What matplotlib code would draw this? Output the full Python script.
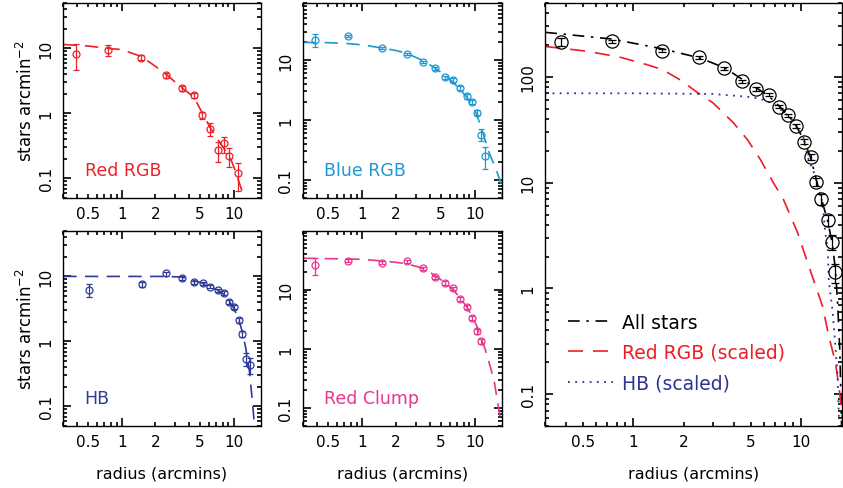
import numpy as np
import matplotlib.pyplot as plt
from matplotlib.ticker import FixedLocator, FuncFormatter, NullFormatter

plt.rcParams['font.family'] = 'DejaVu Sans'

## values

# Red RGB
rrgb_r = [0.39, 0.76, 1.5, 2.48, 3.43, 4.4, 5.25, 6.2, 7.2, 8.3, 9.2, 11.0]
rrgb_d = [8.3, 9.4, 7.2, 3.85, 2.42, 1.89, 0.93, 0.58, 0.27, 0.345, 0.22, 0.12]
rrgb_e = [3.6, 1.7, 0.6, 0.35, 0.22, 0.18, 0.12, 0.13, 0.09, 0.095, 0.07, 0.055]
rrgb_fit_r = [0.3, 0.5, 0.76, 1.0, 1.5, 2.0, 2.5, 3.43, 4.4, 5.25, 6.2, 7.2, 8.3, 9.2, 10, 11, 12, 12.4]
rrgb_fit_d = [11.5, 10.9, 10.0, 9.6, 7.5, 5.3, 4.0, 2.5, 1.8, 1.02, 0.6, 0.4, 0.28, 0.22, 0.155, 0.097, 0.061, 0.045]

# Blue RGB
brgb_r = [0.385, 0.76, 1.51, 2.49, 3.47, 4.41, 5.42, 6.4, 7.39, 8.48, 9.4, 10.4, 11.3, 12.4]
brgb_d = [21.9, 25.4, 16.0, 12.8, 9.4, 7.3, 5.2, 4.68, 3.47, 2.48, 2.0, 1.33, 0.57, 0.254]
brgb_e = [5.5, 1.0, 0.8, 0.6, 0.45, 0.35, 0.3, 0.3, 0.25, 0.2, 0.18, 0.12, 0.13, 0.1]
brgb_fit_r = [0.3, 0.5, 0.76, 1.0, 1.5, 2.0, 2.5, 3.5, 4.4, 5.4, 6.4, 7.4, 8.5, 9.4, 10.4, 11.3, 12.4, 13.5, 15.5, 17.1, 17.6]
brgb_fit_d = [19.8, 19.6, 18.9, 18.0, 16.0, 14.5, 13.0, 9.8, 7.5, 5.7, 4.3, 3.3, 2.4, 1.8, 1.25, 0.81, 0.46, 0.28, 0.15, 0.09, 0.05]

# HB
hb_r = [0.51, 1.51, 2.48, 3.43, 4.43, 5.3, 6.18, 7.27, 8.16, 9.1, 10.1, 11.1, 12.0, 12.9, 13.9]
hb_d = [6.25, 7.55, 11.1, 9.55, 8.1, 7.8, 6.95, 6.1, 5.6, 4.0, 3.4, 2.1, 1.3, 0.54, 0.44]
hb_e = [1.5, 0.6, 0.8, 0.6, 0.5, 0.4, 0.4, 0.35, 0.35, 0.3, 0.25, 0.2, 0.15, 0.12, 0.12]
hb_fit_r = [0.3, 1.0, 2.36, 3.43, 4.43, 5.3, 6.2, 7.3, 8.2, 9.1, 10.1, 11.1, 12.0, 12.9, 13.9, 14.5, 15.2, 15.4]
hb_fit_d = [10, 10, 10, 9.8, 8.6, 7.9, 7.0, 6.1, 5.3, 4.2, 3.2, 2.2, 1.4, 0.77, 0.34, 0.16, 0.066, 0.05]

# Red Clump
rc_r = [0.382, 0.755, 1.51, 2.49, 3.47, 4.41, 5.42, 6.4, 7.39, 8.48, 9.4, 10.4, 11.3]
rc_d = [25.8, 31.0, 28.6, 30.2, 22.9, 16.1, 13.0, 10.5, 7.0, 5.2, 3.36, 2.0, 1.34]
rc_e = [8.0, 1.8, 1.5, 1.5, 1.2, 0.9, 0.8, 0.7, 0.5, 0.4, 0.3, 0.2, 0.15]
rc_fit_r = [0.3, 0.76, 1.0, 1.5, 2.0, 2.5, 3.47, 4.41, 5.42, 6.4, 7.39, 8.48, 9.4, 10.4, 11.3, 12.4, 14, 15, 16.3, 17.5]
rc_fit_d = [34, 33, 32.6, 30.6, 29, 27.5, 23, 17.6, 13.3, 10.1, 7.4, 5.2, 3.7, 2.5, 1.58, 1.0, 0.45, 0.27, 0.1, 0.048]

# All stars + scaled fits
all_r = [0.373, 0.75, 1.49, 2.48, 3.47, 4.46, 5.41, 6.41, 7.36, 8.36, 9.33, 10.4, 11.4, 12.3, 13.2, 14.5, 15.3, 16.0]
all_d = [214, 217, 177, 154, 121, 91, 77, 68, 52.5, 43.2, 34.7, 24.4, 17.5, 10.2, 7.0, 4.4, 2.74, 1.42]
all_e = [20, 8, 6, 5, 4, 3, 3, 2.5, 2, 1.8, 1.5, 1.2, 1.0, 0.8, 0.8, 0.5, 0.45, 0.3]
all_fit_r = [0.3, 0.75, 1.5, 2.5, 3.5, 4.5, 5.4, 6.4, 7.4, 8.4, 9.3, 10.4, 11.4, 12.3, 13.2, 14.3, 15.3, 16.0, 16.5, 17.0, 17.4]
all_fit_d = [264, 228, 184, 151, 122, 94, 79, 66, 53, 43, 35, 25, 17.2, 10.7, 7.0, 4.5, 2.7, 1.5, 0.7, 0.25, 0.05]
rs_fit_r = [0.3, 0.53, 0.83, 1.2, 1.5, 1.9, 2.39, 2.98, 3.94, 4.78, 5.71, 6.83, 7.84, 9.5, 10.9, 12.2, 13.4, 14.6, 16.0, 17.0, 17.5]
rs_fit_d = [194, 175, 154, 131, 117, 94, 72, 57, 37, 25.6, 16.6, 10.0, 6.95, 3.4, 1.77, 1.05, 0.68, 0.354, 0.2, 0.1, 0.06]
hs_fit_r = [0.3, 1.0, 2.98, 4.78, 5.71, 6.83, 8.66, 10.3, 10.9, 11.9, 12.5, 13.4, 13.9, 14.4, 14.6, 15.4, 16.0, 16.5, 16.8]
hs_fit_d = [70, 70, 69, 65, 62, 56, 41, 26.9, 17.7, 12.5, 9.3, 6.5, 3.4, 2.35, 1.2, 0.6, 0.28, 0.14, 0.055]

c_red = '#ec2027'
c_blue = '#1b98d5'
c_hb = '#2e3a98'
c_rc = '#e8358e'


def setup(ax, ytop, xlab=True, ylab=True):
    ax.set_xscale('log')
    ax.set_yscale('log')
    ax.set_xlim(0.3, 17.5)
    ax.set_ylim(0.05, ytop)
    ax.xaxis.set_major_locator(FixedLocator([1, 10]))
    ax.xaxis.set_minor_locator(FixedLocator([0.3, 0.4, 0.5, 0.6, 0.7, 0.8, 0.9, 2, 3, 4, 5, 6, 7, 8, 9]))
    ax.xaxis.set_major_formatter(FuncFormatter(lambda v, p: '%g' % v))
    ax.xaxis.set_minor_formatter(FuncFormatter(lambda v, p: '%g' % v if round(v, 3) in (0.5, 2, 5) else ''))
    dec = [0.01, 0.1, 1, 10, 100, 1000]
    ax.yaxis.set_major_locator(FixedLocator(dec))
    ax.yaxis.set_minor_locator(FixedLocator([d * k for d in dec for k in range(2, 10)]))
    ax.yaxis.set_major_formatter(FuncFormatter(lambda v, p: '%g' % v))
    ax.yaxis.set_minor_formatter(NullFormatter())
    ax.tick_params(which='both', direction='in', top=True, right=True,
                   color='black', labelsize=11, width=1.2)
    ax.tick_params(which='major', length=6)
    ax.tick_params(which='minor', length=3)
    ax.tick_params(axis='x', which='both', pad=6)
    ax.tick_params(axis='y', which='both', pad=7, labelrotation=90)
    plt.setp(ax.get_yticklabels(), va='center')
    for s in ax.spines.values():
        s.set_linewidth(1.0)
    if xlab:
        ax.set_xlabel('radius (arcmins)', fontsize=11.5, labelpad=12)
    if ylab:
        ax.set_ylabel('stars arcmin$^{-2}$', fontsize=12, labelpad=2)


def small_panel(ax, r, d, e, fr, fd, col, name, ytop, xlab, ylab):
    ax.plot(fr, fd, color=col, lw=1.2, dashes=(8, 5))
    ax.errorbar(r, d, yerr=e, fmt='o', mfc='none', mec=col, ecolor=col, ms=5, mew=0.9,
                elinewidth=0.9, capsize=2)
    setup(ax, ytop, xlab, ylab)
    ax.text(0.108, 0.145, name, transform=ax.transAxes, color=col, fontsize=12.5, va='center')


fig = plt.figure(figsize=(8.43, 4.89), dpi=100)
W, H = 843, 489

def add(l, t, w, h):
    return fig.add_axes([l / W, 1 - (t + h) / H, w / W, h / H])

ax1 = add(63.3, 4, 197.4, 195)
ax2 = add(303, 4, 199, 195)
ax3 = add(63.3, 232, 197.4, 195)
ax4 = add(303, 232, 199, 195)
ax5 = add(545.3, 4, 296.7, 423)

small_panel(ax1, rrgb_r, rrgb_d, rrgb_e, rrgb_fit_r, rrgb_fit_d, c_red, 'Red RGB', 50, False, True)
small_panel(ax2, brgb_r, brgb_d, brgb_e, brgb_fit_r, brgb_fit_d, c_blue, 'Blue RGB', 90, False, False)
small_panel(ax3, hb_r, hb_d, hb_e, hb_fit_r, hb_fit_d, c_hb, 'HB', 50, True, True)
small_panel(ax4, rc_r, rc_d, rc_e, rc_fit_r, rc_fit_d, c_rc, 'Red Clump', 98, True, False)

# big panel
ax5.plot(all_fit_r, all_fit_d, color='black', lw=1.2, dashes=(7, 4, 1.5, 4), label='All stars')
ax5.plot(rs_fit_r, rs_fit_d, color='#ee1c25', lw=1.2, dashes=(9, 6), label='Red RGB (scaled)')
ax5.plot(hs_fit_r, hs_fit_d, color='#2e3192', lw=1.3, dashes=(1, 3), label='HB (scaled)')
ax5.errorbar(all_r, all_d, yerr=all_e, fmt='o', mfc='none', mec='black', ecolor='black', ms=9.5,
             mew=0.9, elinewidth=0.9, capsize=3)
setup(ax5, 500, True, False)
ax5.legend(loc='lower left', bbox_to_anchor=(0.02, 0.04), frameon=False, fontsize=13.5,
           handlelength=2.4, handletextpad=0.45, labelspacing=0.6, labelcolor='linecolor')

fig.savefig('out.png', dpi=100)
